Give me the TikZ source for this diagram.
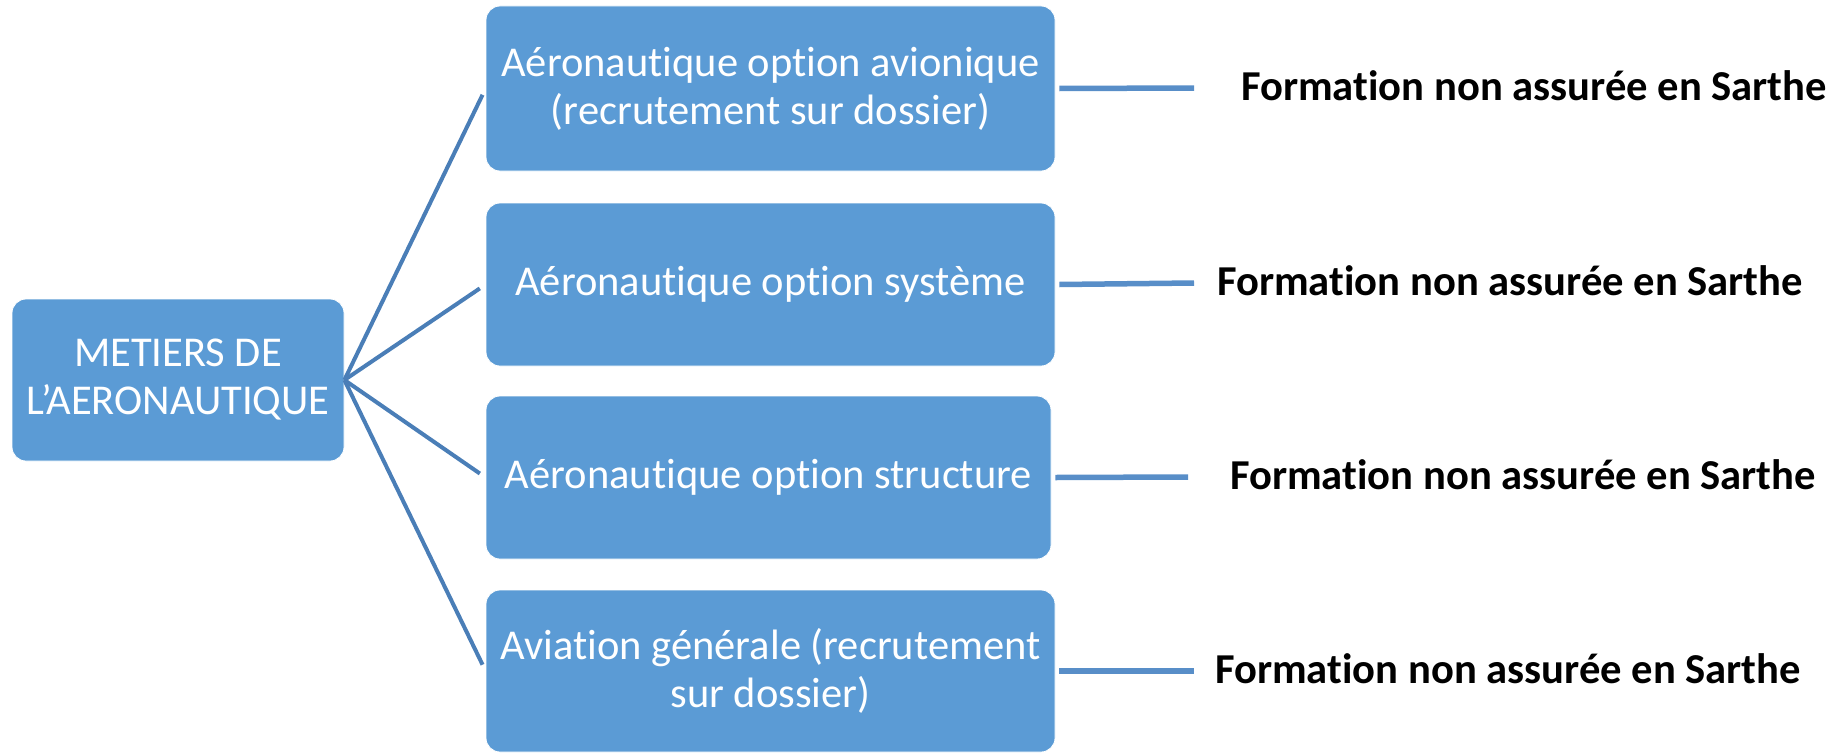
\documentclass[tikz,border=0pt]{standalone}
\usepackage{fontspec}
\setmainfont[Ligatures=NoCommon]{Carlito}
\definecolor{boxblue}{RGB}{91,155,213}
\definecolor{leftline}{RGB}{74,126,183}
\definecolor{rightline}{RGB}{88,142,200}
\begin{document}
\begin{tikzpicture}[x=1pt,y=-1pt,
  bluebox/.style={rectangle, rounded corners=14pt, fill=boxblue, draw=white, line width=0.8pt,
    text=white, align=center, inner sep=0pt, font=\fontsize{42.5}{48}\selectfont},
  branch/.style={draw=leftline, line width=4pt, shorten >=7pt},
  tail/.style={draw=rightline, line width=5.5pt},
  note/.style={anchor=west, inner sep=0pt, font=\fontsize{42.6}{48}\selectfont\bfseries, text=black}]
\useasboundingbox (0,0) rectangle (1843,752);
\node[bluebox, minimum width=332pt, minimum height=162pt] (root) at (178,380) {METIERS DE\\L’AERONAUTIQUE};
\node[bluebox, minimum width=569pt, minimum height=165pt] (b1) at (770.5,88.5) {Aéronautique option avionique\\(recrutement sur dossier)};
\node[bluebox, minimum width=569pt, minimum height=163pt] (b2) at (770.5,284.5) {Aéronautique option système};
\node[bluebox, minimum width=565pt, minimum height=163pt] (b3) at (768.5,477.5) {Aéronautique option structure};
\node[bluebox, minimum width=569pt, minimum height=162pt] (b4) at (770.5,671) {Aviation générale (recrutement\\sur dossier)};
\foreach \b in {b1,b2,b3,b4}{\draw[branch] (root.east) -- (\b.west);}
\coordinate (e1) at (1194,88);
\coordinate (e2) at (1194,283);
\coordinate (e3) at (1188,477);
\coordinate (e4) at (1194,671);
\draw[tail] ([xshift=4pt]b1.east) -- (e1);
\draw[tail] ([xshift=4pt]b2.east) -- (e2);
\draw[tail] ([xshift=4pt]b3.east) -- (e3);
\draw[tail] ([xshift=4pt]b4.east) -- (e4);
\node[note] (t1) at (1241,86) {Formation non assurée en Sarthe};
\node[note] (t2) at (1217,281) {Formation non assurée en Sarthe};
\node[note] (t3) at (1230,475) {Formation non assurée en Sarthe};
\node[note] (t4) at (1215,669) {Formation non assurée en Sarthe};
\end{tikzpicture}
\end{document}
